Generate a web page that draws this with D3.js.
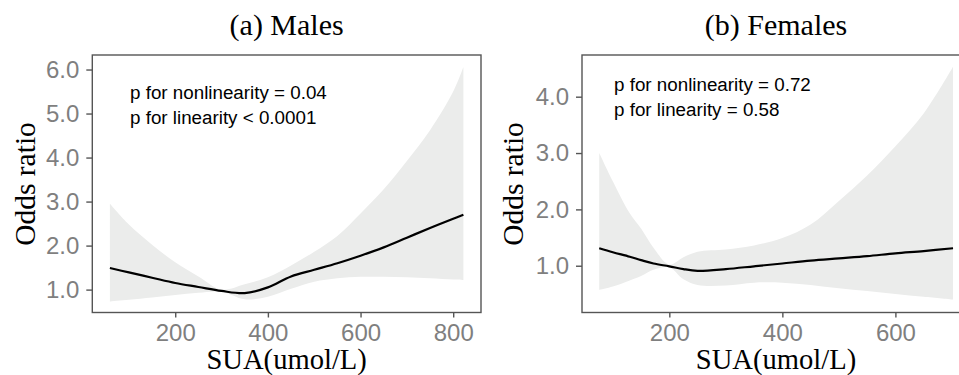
<!DOCTYPE html>
<html>
<head>
<meta charset="utf-8">
<script src="https://cdn.jsdelivr.net/npm/d3@7"></script>
<style>
  body { margin: 0; background: #fff; }
</style>
</head>
<body>
<div id="chart"></div>
<script>
// data (SUA in umol/L, odds ratio with 95% CI)
var maleSUA   = [59, 100, 150, 200, 250, 300, 350, 400, 450, 500, 550, 600, 650, 700, 750, 800, 822];
var maleOR    = [1.49, 1.39, 1.27, 1.15, 1.06, 0.97, 0.92, 1.05, 1.30, 1.45, 1.60, 1.77, 1.96, 2.18, 2.40, 2.61, 2.70];
var maleLower = [0.73, 0.77, 0.82, 0.88, 0.93, 0.95, 0.78, 0.84, 1.02, 1.18, 1.26, 1.29, 1.29, 1.28, 1.26, 1.23, 1.22];
var maleUpper = [2.95, 2.48, 2.02, 1.62, 1.30, 1.00, 1.12, 1.28, 1.55, 1.86, 2.22, 2.73, 3.28, 3.92, 4.62, 5.50, 6.06];

var femaleSUA   = [76, 100, 130, 150, 172, 200, 225, 250, 300, 350, 400, 450, 500, 550, 600, 650, 702];
var femaleOR    = [1.31, 1.24, 1.16, 1.10, 1.04, 0.99, 0.94, 0.91, 0.94, 0.99, 1.04, 1.09, 1.13, 1.17, 1.22, 1.26, 1.31];
var femaleLower = [0.57, 0.63, 0.74, 0.82, 0.93, 0.97, 0.76, 0.66, 0.65, 0.70, 0.70, 0.66, 0.60, 0.55, 0.50, 0.45, 0.40];
var femaleUpper = [3.00, 2.50, 1.93, 1.66, 1.32, 1.02, 1.15, 1.25, 1.29, 1.36, 1.49, 1.73, 2.15, 2.60, 3.12, 3.70, 4.53];

var maleXTicks = [200, 400, 600, 800];
var maleYTicks = [1, 2, 3, 4, 5, 6];
var femaleXTicks = [200, 400, 600];
var femaleYTicks = [1, 2, 3, 4];

var maleNotes = ["p for nonlinearity = 0.04", "p for linearity < 0.0001"];
var femaleNotes = ["p for nonlinearity = 0.72", "p for linearity = 0.58"];

var W = 959, H = 375;

var svg = d3.select("#chart")
  .append("svg")
  .attr("width", W)
  .attr("height", H);

function drawPanel(p) {
  var x = d3.scaleLinear().domain(p.xDomain).range([p.left, p.right]);
  var y = d3.scaleLinear().domain(p.yDomain).range([p.bottom, p.top]);

  var rows = p.sua.map(function(s, i) {
    return { s: s, or: p.or[i], lo: p.lo[i], hi: p.hi[i] };
  });

  var g = svg.append("g");

  // confidence band
  g.append("path")
    .datum(rows)
    .attr("fill", "#ebeceb")
    .attr("d", d3.area()
      .x(function(d) { return x(d.s); })
      .y0(function(d) { return y(d.lo); })
      .y1(function(d) { return y(d.hi); })
      .curve(d3.curveCatmullRom.alpha(0.5)));

  // odds ratio curve
  g.append("path")
    .datum(rows)
    .attr("fill", "none")
    .attr("stroke", "#000")
    .attr("stroke-width", 2.2)
    .attr("d", d3.line()
      .x(function(d) { return x(d.s); })
      .y(function(d) { return y(d.or); })
      .curve(d3.curveCatmullRom.alpha(0.5)));

  // panel border
  g.append("rect")
    .attr("x", p.left)
    .attr("y", p.top)
    .attr("width", p.right - p.left)
    .attr("height", p.bottom - p.top)
    .attr("fill", "none")
    .attr("stroke", "#555")
    .attr("stroke-width", 1.4);

  // x axis
  var xa = g.append("g")
    .attr("transform", "translate(0," + p.bottom + ")")
    .call(d3.axisBottom(x).tickValues(p.xTicks).tickSize(5).tickPadding(6).tickFormat(d3.format("d")));
  xa.select(".domain").remove();

  // y axis
  var ya = g.append("g")
    .attr("transform", "translate(" + p.left + ",0)")
    .call(d3.axisLeft(y).tickValues(p.yTicks).tickSize(6).tickPadding(7).tickFormat(d3.format(".1f")));
  ya.select(".domain").remove();

  g.selectAll(".tick line").attr("stroke", "#555").attr("stroke-width", 1.4);
  g.selectAll(".tick text")
    .attr("fill", "#7f7f7f")
    .attr("font-family", "Liberation Sans, Arial, sans-serif")
    .attr("font-size", "24px");

  // panel title
  g.append("text")
    .attr("x", (p.left + p.right) / 2)
    .attr("y", 35)
    .attr("text-anchor", "middle")
    .attr("font-family", "Liberation Serif, Times New Roman, serif")
    .attr("font-size", "30px")
    .text(p.title);

  // x axis title
  g.append("text")
    .attr("x", (p.left + p.right) / 2)
    .attr("y", 369)
    .attr("text-anchor", "middle")
    .attr("font-family", "Liberation Serif, Times New Roman, serif")
    .attr("font-size", "28.6px")
    .text("SUA(umol/L)");

  // y axis title
  g.append("text")
    .attr("transform", "translate(" + p.yTitleX + "," + 184 + ") rotate(-90)")
    .attr("text-anchor", "middle")
    .attr("font-family", "Liberation Serif, Times New Roman, serif")
    .attr("font-size", "29.5px")
    .text("Odds ratio");

  // p values
  g.selectAll(".note")
    .data(p.notes)
    .enter()
    .append("text")
    .attr("class", "note")
    .attr("x", p.noteX)
    .attr("y", function(d, i) { return p.noteY + i * 25; })
    .attr("font-family", "Liberation Sans, Arial, sans-serif")
    .attr("font-size", "18.8px")
    .attr("fill", "#000")
    .text(function(d) { return d; });
}

drawPanel({
  title: "(a) Males",
  sua: maleSUA, or: maleOR, lo: maleLower, hi: maleUpper,
  xTicks: maleXTicks, yTicks: maleYTicks, notes: maleNotes,
  xDomain: [21, 860], yDomain: [0.48, 6.33],
  left: 92.3, right: 481, top: 55, bottom: 312.5,
  yTitleX: 34.5, noteX: 130, noteY: 99
});

drawPanel({
  title: "(b) Females",
  sua: femaleSUA, or: femaleOR, lo: femaleLower, hi: femaleUpper,
  xTicks: femaleXTicks, yTicks: femaleYTicks, notes: femaleNotes,
  xDomain: [45.5, 732], yDomain: [0.17, 4.74],
  left: 582, right: 970, top: 55, bottom: 312.5,
  yTitleX: 523, noteX: 614, noteY: 91
});
</script>
</body>
</html>
